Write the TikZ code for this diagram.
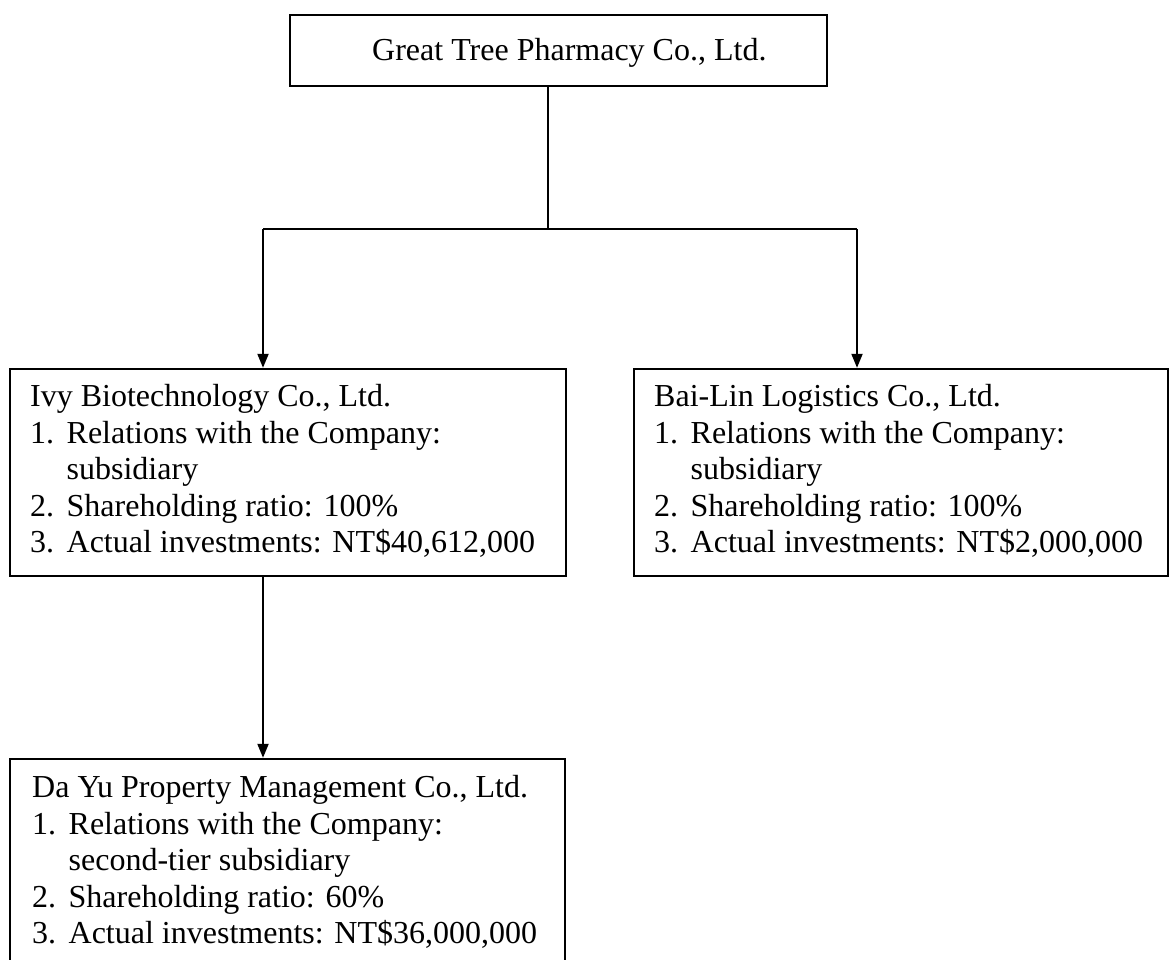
\documentclass[tikz,border=0pt]{standalone}
\usepackage{fontspec}
\setmainfont{Liberation Serif}
\usetikzlibrary{arrows.meta,calc}
\newcommand{\numlab}[1]{\makebox[18.25pt][l]{#1}}
\newcommand{\hangsp}{\hspace*{18.25pt}}
\tikzset{
  orgbox/.style={draw=black, line width=1.2pt, fill=none, inner sep=0pt},
  txt/.style={inner sep=0pt, font=\fontsize{16pt}{18.25pt}\selectfont},
  conn/.style={draw=black, line width=1pt},
  arr/.style={conn, -{Triangle[length=7pt,width=5.5pt]}}
}
\begin{document}
\begin{tikzpicture}[x=0.5pt,y=-0.5pt]
\useasboundingbox (0,0) rectangle (1170,959);
% boxes
\node[orgbox, minimum width=268.5pt, minimum height=35.5pt] (top) at (558.5,50.5) {};
\node[orgbox, minimum width=278pt, minimum height=103.5pt] (ivy) at (288,472.5) {};
\node[orgbox, minimum width=267pt, minimum height=103.5pt] (bai) at (901,472.5) {};
\node[orgbox, minimum width=277.5pt, minimum height=104pt] (dayu) at (287.5,863) {};
% texts
\node[txt, anchor=base west] (topt) at ($(top.north west)+(83,47)$) {Great Tree Pharmacy Co., Ltd.};
\node[txt, anchor=base west] (ivyt) at ($(ivy.north west)+(21,39)$) {\parbox[t]{265pt}{\fontsize{16pt}{18.25pt}\selectfont
Ivy Biotechnology Co., Ltd.\\
\numlab{1.}Relations with the Company:\\
\hangsp subsidiary\\
\numlab{2.}Shareholding ratio: 100\%\\
\numlab{3.}Actual investments: NT\$40,612,000}};
\node[txt, anchor=base west] (bait) at ($(bai.north west)+(21,39)$) {\parbox[t]{255pt}{\fontsize{16pt}{18.25pt}\selectfont
Bai-Lin Logistics Co., Ltd.\\
\numlab{1.}Relations with the Company:\\
\hangsp subsidiary\\
\numlab{2.}Shareholding ratio: 100\%\\
\numlab{3.}Actual investments: NT\$2,000,000}};
\node[txt, anchor=base west] (dayut) at ($(dayu.north west)+(23,40)$) {\parbox[t]{265pt}{\fontsize{16pt}{18.25pt}\selectfont
Da Yu Property Management Co., Ltd.\\
\numlab{1.}Relations with the Company:\\
\hangsp second-tier subsidiary\\
\numlab{2.}Shareholding ratio: 60\%\\
\numlab{3.}Actual investments: NT\$36,000,000}};
% connectors
\coordinate (jm) at (548,229);
\coordinate (jl) at (263,229);
\coordinate (jr) at (857,229);
\draw[conn] (top.south -| jm) -- (jm);
\draw[conn] (jl) -- (jr);
\draw[arr] (jl) -- (jl |- ivy.north);
\draw[arr] (jr) -- (jr |- bai.north);
\draw[arr] (ivy.south -| jl) -- (dayu.north -| jl);
\end{tikzpicture}
\end{document}
